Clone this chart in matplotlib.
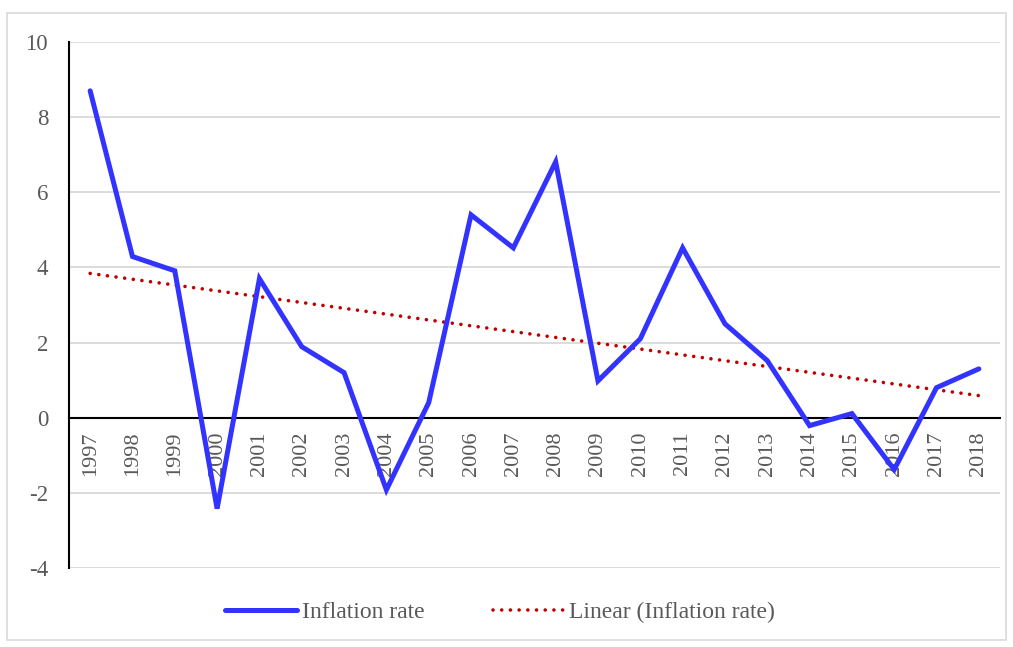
import numpy as np
import matplotlib
matplotlib.use("Agg")
import matplotlib.pyplot as plt
from matplotlib.patches import Rectangle

years = [str(y) for y in range(1997, 2019)]
inflation = [8.70, 4.29, 3.91, -2.42, 3.70, 1.89, 1.20, -1.92, 0.40, 5.40, 4.52,
             6.81, 0.98, 2.10, 4.52, 2.50, 1.52, -0.21, 0.11, -1.38, 0.80, 1.30]
yticks = [-4, -2, 0, 2, 4, 6, 8, 10]

plt.rcParams['font.family'] = ['Liberation Serif', 'DejaVu Serif']
txt = '#595959'
fs = 16
lfs = 17

fig = plt.figure(figsize=(10.13, 6.47), dpi=100)
ax = fig.add_axes([69/1013, 1-568/647, (1000-69)/1013, (568-42)/647])

x = np.arange(len(years))
vals = np.array(inflation)
coef = np.polyfit(x, vals, 1)
trend = np.polyval(coef, x)

l1, = ax.plot(x, vals, color='#3333FF', lw=3.6, solid_capstyle='round',
              solid_joinstyle='miter', zorder=2.7, label='Inflation rate')
l2, = ax.plot(x, trend, color='#C00000', lw=2.6, linestyle=(0, (0.01, 2.4)),
              dash_capstyle='round', zorder=2.6, label='Linear (Inflation rate)')

ax.set_xlim(-0.5, len(years) - 0.5)
ax.set_ylim(-4, 10)
ax.set_yticks(yticks)
ax.set_yticklabels([str(v) for v in yticks])
ax.set_xticks(x)
ax.set_xticklabels(years)
ax.tick_params(axis='x', length=0, pad=10, labelsize=fs, labelcolor=txt,
               labelrotation=90)
ax.tick_params(axis='y', length=0, pad=15, labelsize=fs + 0.5, labelcolor=txt)
for lab in ax.get_xticklabels():
    lab.set_va('top')
    lab.set_ha('center')
ax.xaxis.set_zorder(3)

ax.grid(axis='y', color='#d9d9d9', lw=1.3)
ax.set_axisbelow(True)
for s in ['top', 'right']:
    ax.spines[s].set_visible(False)
ax.spines['bottom'].set_position(('data', 0))
ax.spines['bottom'].set_color('black')
ax.spines['bottom'].set_linewidth(1.5)
ax.spines['bottom'].set_zorder(2.5)
ax.spines['left'].set_color('black')
ax.spines['left'].set_linewidth(1.5)

fig.legend(handles=[l1, l2], loc='center', bbox_to_anchor=(500/1013, 1-612/647),
           ncol=2, frameon=False, fontsize=lfs, labelcolor=txt,
           handlelength=3.05, handletextpad=0.2, columnspacing=2.9)

fig.patches.append(Rectangle((7/1013, 7/647), (1006-7)/1013, (640-13)/647,
                             transform=fig.transFigure, fill=False,
                             edgecolor='#d9d9d9', lw=1.2))

fig.savefig('out.png', dpi=100)
